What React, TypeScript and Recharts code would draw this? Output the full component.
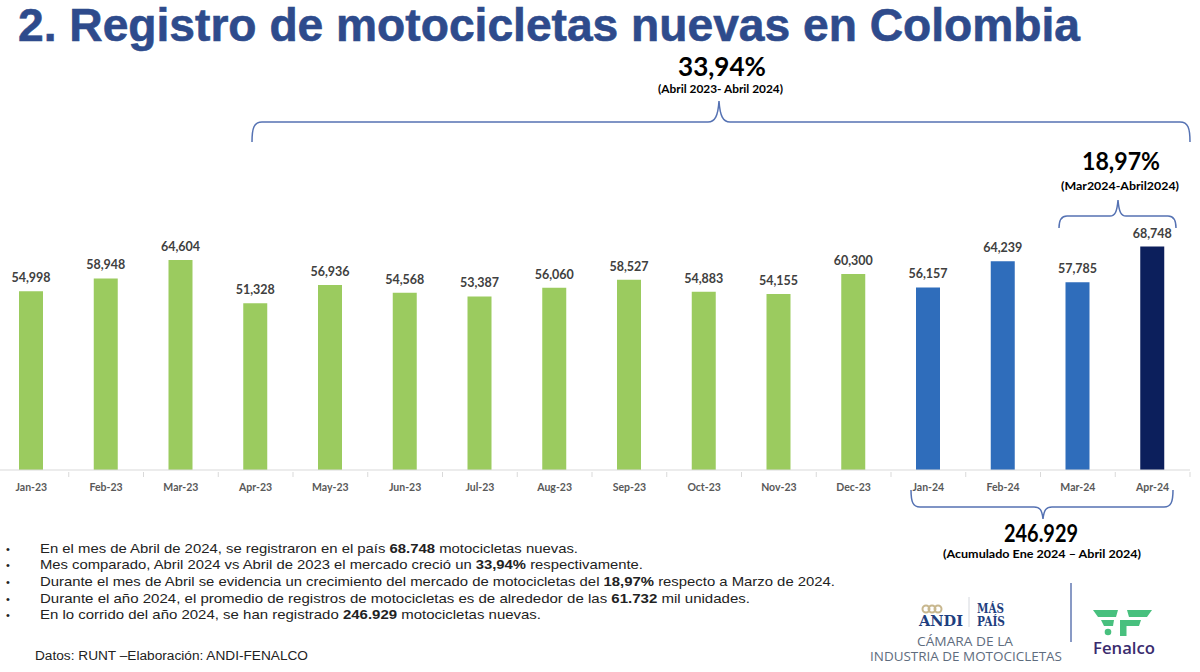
import React from "react";
import { BarChart, Bar, XAxis, YAxis, LabelList, Cell } from "recharts";

const months = ["Jan-23","Feb-23","Mar-23","Apr-23","May-23","Jun-23","Jul-23","Aug-23","Sep-23","Oct-23","Nov-23","Dec-23","Jan-24","Feb-24","Mar-24","Apr-24"];
const registros = [54998,58948,64604,51328,56936,54568,53387,56060,58527,54883,54155,60300,56157,64239,57785,68748];

const data = months.map((m, i) => ({ month: m, value: registros[i] }));

const GREEN = "#9BCB5F";
const BLUE = "#2F6DBB";
const NAVY = "#0C1F5C";
const BRACE = "#5572B3";

const colorFor = (m: string, i: number) => (i === months.length - 1 ? NAVY : m.endsWith("-24") ? BLUE : GREEN);

const BAND = 1196 / 16;

const Tick = (props: any) => {
  const { x, y, payload, index } = props;
  return (
    <g>
      <line x1={x - BAND / 2} x2={x - BAND / 2} y1={y} y2={y + 5} stroke="#D9D9D9" />
      {index === months.length - 1 && <line x1={x + BAND / 2} x2={x + BAND / 2} y1={y} y2={y + 5} stroke="#D9D9D9" />}
      <text x={x} y={y + 19} textAnchor="middle" fontFamily="Lato, 'Open Sans', sans-serif" fontWeight={700} fontSize={10.5} fill="#595959">
        {payload.value}
      </text>
    </g>
  );
};

const fmt = (v: any) => Number(v).toLocaleString("en-US");

const bullets: { parts: [string, boolean][]; w: number }[] = [
  { parts: [["En el mes de Abril de 2024, se registraron en el país ", false], ["68.748", true], [" motocicletas nuevas.", false]], w: 538 },
  { parts: [["Mes comparado, Abril 2024 vs Abril de 2023 el mercado creció un ", false], ["33,94%", true], [" respectivamente.", false]], w: 603 },
  { parts: [["Durante el mes de Abril se evidencia un crecimiento del mercado de motocicletas del ", false], ["18,97%", true], [" respecto a Marzo de 2024.", false]], w: 795 },
  { parts: [["Durante el año 2024, el promedio de  registros de motocicletas es de alrededor de las ", false], ["61.732", true], [" mil unidades.", false]], w: 710 },
  { parts: [["En lo corrido del año 2024, se han registrado ", false], ["246.929", true], [" motocicletas nuevas.", false]], w: 501 },
];
const bulletY = [553, 569, 586, 603, 619];

const CAL = "Lato, 'Open Sans', sans-serif";
const NARROW = "'Liberation Sans Narrow', 'Liberation Sans', Arial, sans-serif";

export default function App() {
  return (
    <div style={{ position: "absolute", left: 0, top: 0, width: 1200, height: 672, background: "#fff", overflow: "hidden" }}>
      <div style={{ position: "absolute", left: -6, top: 0 }}>
        <BarChart width={1200} height={520} data={data} margin={{ top: 210, right: 4, left: 0, bottom: 20 }}>
          <XAxis dataKey="month" axisLine={{ stroke: "#D9D9D9" }} tickLine={false} tickSize={0} tick={<Tick />} interval={0} height={30} />
          <YAxis hide domain={[0, 80000]} />
          <Bar dataKey="value" barSize={24} isAnimationActive={false}>
            {data.map((d, i) => (
              <Cell key={d.month} fill={colorFor(d.month, i)} />
            ))}
            <LabelList dataKey="value" position="top" offset={9} formatter={fmt} style={{ fontFamily: CAL, fontWeight: 700, fontSize: 12.5, fill: "#404040" }} />
          </Bar>
        </BarChart>
      </div>
      <svg width={1200} height={672} style={{ position: "absolute", left: 0, top: 0, pointerEvents: "none" }}>
        <text x={18} y={41} fontFamily="'Liberation Sans', Arial, sans-serif" fontWeight={700} fontSize={46} fill="#2E4B8C" stroke="#2E4B8C" strokeWidth={0.6} textLength={1062} lengthAdjust="spacingAndGlyphs">
          2. Registro de motocicletas nuevas en Colombia
        </text>

        <text x={678} y={76} fontFamily={CAL} fontWeight={700} fontSize={27} fill="#000" textLength={88} lengthAdjust="spacingAndGlyphs">33,94%</text>
        <text x={658} y={93} fontFamily={CAL} fontWeight={700} fontSize={11} fill="#000" textLength={125} lengthAdjust="spacingAndGlyphs">(Abril 2023- Abril 2024)</text>
        <path d="M252,142 C252,128 254,122 262,122 L708,122 C715,122 718,116 719,101 C720,116 723,122 730,122 L1180,122 C1188,122 1190,128 1190,142" fill="none" stroke={BRACE} strokeWidth={1.5} />

        <text x={1082} y={170} fontFamily={CAL} fontWeight={700} fontSize={25} fill="#000" textLength={78} lengthAdjust="spacingAndGlyphs">18,97%</text>
        <text x={1061} y={190} fontFamily={CAL} fontWeight={700} fontSize={12} fill="#000" textLength={118} lengthAdjust="spacingAndGlyphs">(Mar2024-Abril2024)</text>
        <path d="M1059,228 C1059,220 1061,216 1067,216 L1110,216 C1115,216 1117,212 1118,200 C1119,212 1121,216 1126,216 L1168,216 C1174,216 1176,220 1176,228" fill="none" stroke={BRACE} strokeWidth={1.5} />

        <path d="M911,490 C911,502 913,507 920,507 L1034,507 C1040,507 1042,510 1043,519 C1044,510 1046,507 1052,507 L1164,507 C1171,507 1173,502 1173,490" fill="none" stroke={BRACE} strokeWidth={1.5} />
        <text x={1004} y={542} fontFamily={CAL} fontWeight={700} fontSize={24} fill="#000" textLength={74} lengthAdjust="spacingAndGlyphs">246.929</text>
        <text x={943} y={558} fontFamily={CAL} fontWeight={700} fontSize={11.5} fill="#000" textLength={198} lengthAdjust="spacingAndGlyphs">(Acumulado Ene 2024 – Abril 2024)</text>

        {bullets.map((b, i) => (
          <g key={i}>
            <text x={6} y={bulletY[i]} fontFamily="Arial, sans-serif" fontSize={11} fill="#222">•</text>
            <text x={40} y={bulletY[i]} fontFamily={NARROW} fontSize={13.5} fill="#222" textLength={b.w} lengthAdjust="spacingAndGlyphs">
              {b.parts.map(([t, bold], j) => (
                <tspan key={j} fontWeight={bold ? 700 : 400}>{t}</tspan>
              ))}
            </text>
          </g>
        ))}
        <text x={35} y={660} fontFamily={NARROW} fontSize={12.5} fill="#222" textLength={273} lengthAdjust="spacingAndGlyphs">Datos: RUNT –Elaboración: ANDI-FENALCO</text>

        {/* ANDI logo */}
        <g fill="none" stroke="#C8B78E" strokeWidth={2}>
          <circle cx={926} cy={609} r={3.5} />
          <circle cx={932} cy={609} r={3.5} />
          <circle cx={938} cy={609} r={3.5} />
        </g>
        <text x={919} y={626} fontFamily="'DejaVu Serif', serif" fontWeight={700} fontSize={14} fill="#1F3F80" textLength={44} lengthAdjust="spacingAndGlyphs">ANDI</text>
        <line x1={969} x2={969} y1={597} y2={627} stroke="#D5D8DE" strokeWidth={1} />
        <text x={977} y={613} fontFamily="'DejaVu Serif', serif" fontWeight={700} fontSize={12} fill="#1F3F80" textLength={27} lengthAdjust="spacingAndGlyphs">MÁS</text>
        <text x={977} y={626} fontFamily="'DejaVu Serif', serif" fontWeight={700} fontSize={12} fill="#1F3F80" textLength={28} lengthAdjust="spacingAndGlyphs">PAÍS</text>
        <text x={917} y={646} fontFamily="'Open Sans', sans-serif" fontSize={12} fill="#5E6C7E" textLength={96} lengthAdjust="spacingAndGlyphs">CÁMARA DE LA</text>
        <text x={870} y={661} fontFamily="'Open Sans', sans-serif" fontSize={12} fill="#5E6C7E" textLength={192} lengthAdjust="spacingAndGlyphs">INDUSTRIA DE MOTOCICLETAS</text>
        <line x1={1071} x2={1071} y1={583} y2={642} stroke="#4A64A6" strokeWidth={1.3} />

        {/* Fenalco logo */}
        <g fill="#48C07E">
          <polygon points="1093,610 1118,610 1116,617 1098,617" />
          <polygon points="1127,610 1152,610 1147,617 1129,617" />
          <polygon points="1101,620 1114,620 1113,626 1104,626" />
          <polygon points="1120,620 1141,620 1139,626 1120,626" />
          <rect x={1120} y={620} width={6.5} height={16} />
          <circle cx={1108} cy={632} r={3.3} />
        </g>
        <text x={1093} y={654} fontFamily="'Open Sans', sans-serif" fontWeight={600} fontSize={17} fill="#3A2C6E" textLength={62} lengthAdjust="spacingAndGlyphs">Fenalco</text>
      </svg>
    </div>
  );
}
